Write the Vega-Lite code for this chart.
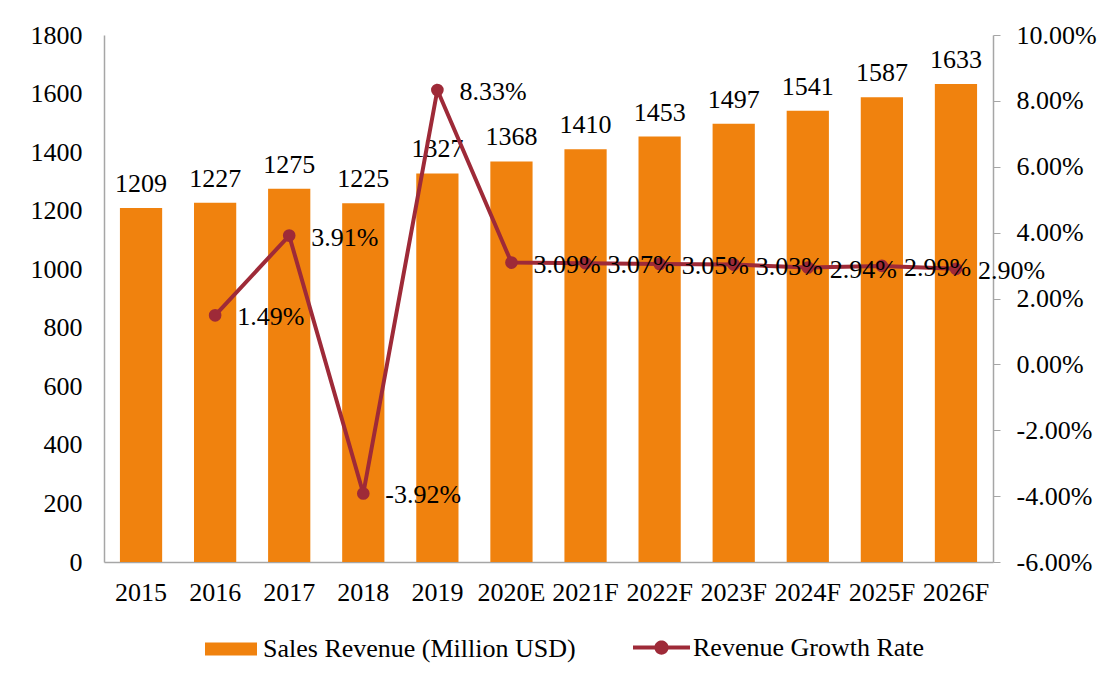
{
  "$schema": "https://vega.github.io/schema/vega-lite/v6.json",
  "width": 889,
  "height": 527,
  "autosize": {"type": "none"},
  "padding": {"left": 104, "top": 35, "right": 115, "bottom": 126},
  "background": "white",
  "config": {
    "font": "Liberation Serif",
    "locale": {"number": {"decimal": ".", "thousands": ",", "grouping": [3], "currency": ["$", ""], "minus": "-"}},
    "view": {"stroke": null},
    "axis": {"labelFont": "Liberation Serif", "labelFontSize": 26, "labelColor": "#000000", "domainColor": "#A6A6A6", "tickColor": "#A6A6A6", "domainWidth": 1.5, "grid": false, "title": null},
    "legend": {"labelFont": "Liberation Serif", "labelFontSize": 26, "labelColor": "#000000", "labelLimit": 0, "title": null}
  },
  "data": {
    "values": [
      {"year": "2015", "revenue": 1209, "growth": null},
      {"year": "2016", "revenue": 1227, "growth": 0.0149},
      {"year": "2017", "revenue": 1275, "growth": 0.0391},
      {"year": "2018", "revenue": 1225, "growth": -0.0392},
      {"year": "2019", "revenue": 1327, "growth": 0.0833},
      {"year": "2020E", "revenue": 1368, "growth": 0.0309},
      {"year": "2021F", "revenue": 1410, "growth": 0.0307},
      {"year": "2022F", "revenue": 1453, "growth": 0.0305},
      {"year": "2023F", "revenue": 1497, "growth": 0.0303},
      {"year": "2024F", "revenue": 1541, "growth": 0.0294},
      {"year": "2025F", "revenue": 1587, "growth": 0.0299},
      {"year": "2026F", "revenue": 1633, "growth": 0.0290}
    ]
  },
  "encoding": {
    "x": {
      "field": "year", "type": "nominal", "sort": null,
      "scale": {"paddingInner": 0.43, "paddingOuter": 0.215},
      "axis": {"labelAngle": 0, "ticks": false, "labelPadding": 17, "labelBaseline": "top"}
    }
  },
  "layer": [
    {
      "layer": [
        {
          "mark": {"type": "bar"},
          "encoding": {
            "y": {"field": "revenue", "type": "quantitative", "scale": {"domain": [0, 1800]},
              "axis": {"orient": "left", "format": "d", "values": [0,200,400,600,800,1000,1200,1400,1600,1800], "ticks": false, "labelPadding": 22}},
            "fill": {"datum": "Sales Revenue (Million USD)", "type": "nominal",
              "scale": {"range": ["#F0820E"]},
              "legend": {"orient": "none", "legendX": 101, "legendY": 588, "symbolType": "M-1,-0.25H1V0.25H-1Z", "symbolSize": 2704, "symbolStrokeWidth": 0, "labelOffset": 6}}
          }
        },
        {
          "mark": {"type": "text", "fontSize": 26, "baseline": "alphabetic", "dy": -16, "color": "#000000"},
          "encoding": {
            "y": {"field": "revenue", "type": "quantitative"},
            "text": {"field": "revenue", "type": "quantitative", "format": "d"}
          }
        }
      ]
    },
    {
      "transform": [{"filter": "datum.growth != null"}],
      "layer": [
        {
          "mark": {"type": "line", "strokeWidth": 4},
          "encoding": {
            "y": {"field": "growth", "type": "quantitative", "scale": {"domain": [-0.06, 0.10]},
              "axis": {"orient": "right", "format": ".2%", "values": [-0.06,-0.04,-0.02,0,0.02,0.04,0.06,0.08,0.10], "tickSize": 7, "labelPadding": 16}},
            "stroke": {"datum": "Revenue Growth Rate", "type": "nominal",
              "scale": {"range": ["#9E2A38"]},
              "legend": {"orient": "none", "legendX": 529, "legendY": 584, "symbolType": "M-1,-0.07H-0.24A0.25,0.25 0 0,1 0.24,-0.07H1V0.07H0.24A0.25,0.25 0 0,1 -0.24,0.07H-1Z", "symbolSize": 3249, "symbolFillColor": "#9E2A38", "symbolStrokeWidth": 0, "labelOffset": 3}}
          }
        },
        {
          "mark": {"type": "point", "filled": true, "size": 160, "opacity": 1, "color": "#9E2A38"},
          "encoding": {
            "y": {"field": "growth", "type": "quantitative"}
          }
        },
        {
          "mark": {"type": "text", "fontSize": 26, "align": "left", "baseline": "middle", "dx": 22, "dy": 2, "color": "#000000"},
          "encoding": {
            "y": {"field": "growth", "type": "quantitative"},
            "text": {"field": "growth", "type": "quantitative", "format": ".2%"}
          }
        }
      ]
    }
  ],
  "resolve": {"scale": {"y": "independent", "fill": "independent", "stroke": "independent"}}
}
